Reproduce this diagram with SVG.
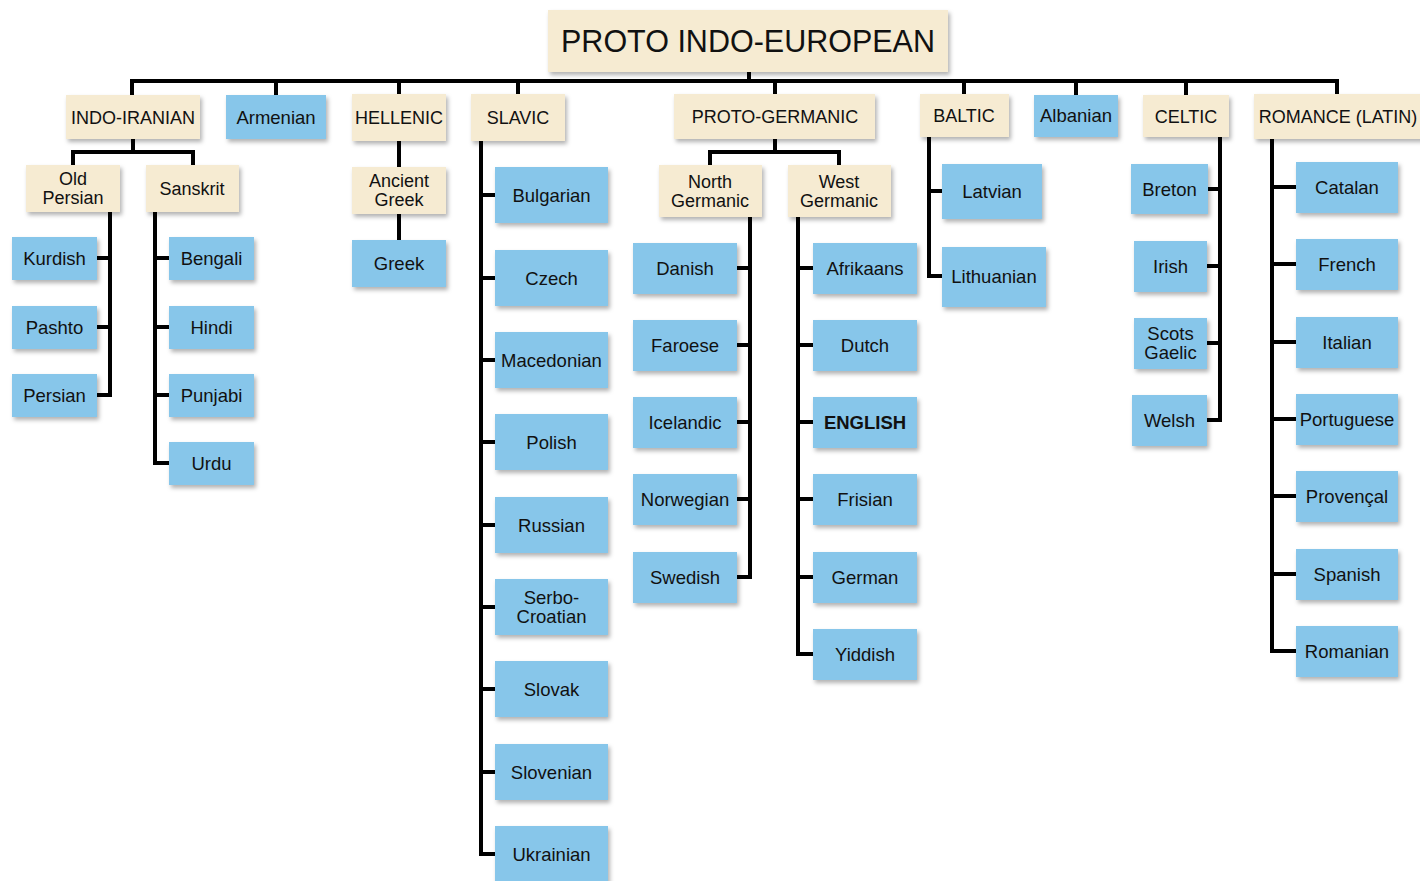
<svg xmlns="http://www.w3.org/2000/svg" width="1420" height="881" viewBox="0 0 1420 881">
<defs>
<filter id="sh" x="-20%" y="-20%" width="150%" height="160%">
<feDropShadow dx="2" dy="3" stdDeviation="2" flood-color="#000" flood-opacity="0.3"/>
</filter>
<style>
.c{fill:#f6ebd2;filter:url(#sh)}
.b{fill:#87c6ea;filter:url(#sh)}
text{font-family:"Liberation Sans",Arial,sans-serif;fill:#111;text-anchor:middle}
.t1{font-size:18px}
.t2{font-size:18.5px}
.t0{font-size:30.5px}
.bold{font-weight:bold}
.ln{fill:none;stroke:#000;stroke-width:4;stroke-linejoin:miter;stroke-linecap:butt}
</style>
</defs>
<rect width="1420" height="881" fill="#fff"/>

<g id="connectors" class="ln">
<path d="M749 72 V81"/>
<path d="M132 95 V81 H1337 V94"/>
<path d="M276 81 V95 M399 81 V94 M518 81 V94 M775 81 V94 M964 81 V94 M1076 81 V95 M1186 81 V95"/>
<path d="M133 139 V152 M73 165 V152 H193 V165"/>
<path d="M110 212 V395 H97 M97 258 H110 M97 327 H110"/>
<path d="M155 212 V463 H169 M155 258 H169 M155 327 H169 M155 395 H169"/>
<path d="M399 141 V167 M399 214 V240"/>
<path d="M481 141 V854 H495 M481 195 H495 M481 278 H495 M481 360 H495 M481 442 H495 M481 525 H495 M481 607 H495 M481 689 H495 M481 772 H495"/>
<path d="M775 139 V152 M710 165 V152 H839 V165"/>
<path d="M750 217 V577 H737 M737 268 H750 M737 345 H750 M737 422 H750 M737 499 H750"/>
<path d="M798 217 V654 H813 M798 268 H813 M798 345 H813 M798 422 H813 M798 499 H813 M798 577 H813"/>
<path d="M929 137 V276 H942 M929 191 H942"/>
<path d="M1220 137 V420 H1207 M1207 189 H1220 M1207 266 H1220 M1207 343 H1220"/>
<path d="M1272 139 V651 H1296 M1272 187 H1296 M1272 264 H1296 M1272 342 H1296 M1272 419 H1296 M1272 496 H1296 M1272 574 H1296"/>
</g>

<g id="pie"><rect class="c" x="548" y="10" width="400" height="62"/><text class="t0" x="748" y="52">PROTO INDO-EUROPEAN</text></g>

<g id="indo-iranian"><rect class="c" x="66" y="95" width="134" height="44"/><text class="t1" x="133" y="123.5">INDO-IRANIAN</text></g>
<g id="armenian"><rect class="b" x="226" y="95" width="100" height="44"/><text class="t2" x="276" y="123.5">Armenian</text></g>
<g id="hellenic"><rect class="c" x="352" y="94" width="94" height="47"/><text class="t1" x="399" y="124">HELLENIC</text></g>
<g id="slavic"><rect class="c" x="471" y="94" width="94" height="47"/><text class="t1" x="518" y="124">SLAVIC</text></g>
<g id="proto-germanic"><rect class="c" x="674" y="94" width="201" height="45"/><text class="t1" x="775" y="123">PROTO-GERMANIC</text></g>
<g id="baltic"><rect class="c" x="920" y="94" width="89" height="43"/><text class="t1" x="964" y="122">BALTIC</text></g>
<g id="albanian"><rect class="b" x="1034" y="95" width="84" height="42"/><text class="t2" x="1076" y="122">Albanian</text></g>
<g id="celtic"><rect class="c" x="1143" y="95" width="86" height="42"/><text class="t1" x="1186" y="122.5">CELTIC</text></g>
<g id="romance"><rect class="c" x="1254" y="94" width="170" height="45"/><text class="t1" x="1338" y="122.5">ROMANCE (LATIN)</text></g>

<g id="old-persian"><rect class="c" x="26" y="165" width="94" height="47"/><text class="t1" x="73" y="185">Old</text><text class="t1" x="73" y="204">Persian</text></g>
<g id="sanskrit"><rect class="c" x="146" y="165" width="93" height="47"/><text class="t1" x="192" y="195">Sanskrit</text></g>
<g id="ancient-greek"><rect class="c" x="352" y="167" width="94" height="47"/><text class="t1" x="399" y="187">Ancient</text><text class="t1" x="399" y="206">Greek</text></g>
<g id="greek"><rect class="b" x="352" y="240" width="94" height="47"/><text class="t2" x="399" y="270">Greek</text></g>
<g id="north-germanic"><rect class="c" x="659" y="165" width="103" height="52"/><text class="t1" x="710" y="188">North</text><text class="t1" x="710" y="207">Germanic</text></g>
<g id="west-germanic"><rect class="c" x="788" y="165" width="103" height="52"/><text class="t1" x="839" y="188">West</text><text class="t1" x="839" y="207">Germanic</text></g>

<g id="kurdish"><rect class="b" x="12" y="237" width="85" height="43"/><text class="t2" x="54.5" y="265">Kurdish</text></g>
<g id="pashto"><rect class="b" x="12" y="306" width="85" height="43"/><text class="t2" x="54.5" y="334">Pashto</text></g>
<g id="persian"><rect class="b" x="12" y="374" width="85" height="43"/><text class="t2" x="54.5" y="402">Persian</text></g>

<g id="bengali"><rect class="b" x="169" y="237" width="85" height="43"/><text class="t2" x="211.5" y="265">Bengali</text></g>
<g id="hindi"><rect class="b" x="169" y="306" width="85" height="43"/><text class="t2" x="211.5" y="334">Hindi</text></g>
<g id="punjabi"><rect class="b" x="169" y="374" width="85" height="43"/><text class="t2" x="211.5" y="402">Punjabi</text></g>
<g id="urdu"><rect class="b" x="169" y="442" width="85" height="43"/><text class="t2" x="211.5" y="470">Urdu</text></g>

<g id="bulgarian"><rect class="b" x="495" y="167" width="113" height="56"/><text class="t2" x="551.5" y="201.5">Bulgarian</text></g>
<g id="czech"><rect class="b" x="495" y="250" width="113" height="56"/><text class="t2" x="551.5" y="284.5">Czech</text></g>
<g id="macedonian"><rect class="b" x="495" y="332" width="113" height="56"/><text class="t2" x="551.5" y="366.5">Macedonian</text></g>
<g id="polish"><rect class="b" x="495" y="414" width="113" height="56"/><text class="t2" x="551.5" y="448.5">Polish</text></g>
<g id="russian"><rect class="b" x="495" y="497" width="113" height="56"/><text class="t2" x="551.5" y="531.5">Russian</text></g>
<g id="serbo-croatian"><rect class="b" x="495" y="579" width="113" height="56"/><text class="t2" x="551.5" y="604">Serbo-</text><text class="t2" x="551.5" y="623">Croatian</text></g>
<g id="slovak"><rect class="b" x="495" y="661" width="113" height="56"/><text class="t2" x="551.5" y="695.5">Slovak</text></g>
<g id="slovenian"><rect class="b" x="495" y="744" width="113" height="56"/><text class="t2" x="551.5" y="778.5">Slovenian</text></g>
<g id="ukrainian"><rect class="b" x="495" y="826" width="113" height="60"/><text class="t2" x="551.5" y="860.5">Ukrainian</text></g>

<g id="danish"><rect class="b" x="633" y="243" width="104" height="51"/><text class="t2" x="685" y="274.5">Danish</text></g>
<g id="faroese"><rect class="b" x="633" y="320" width="104" height="51"/><text class="t2" x="685" y="351.5">Faroese</text></g>
<g id="icelandic"><rect class="b" x="633" y="397" width="104" height="51"/><text class="t2" x="685" y="428.5">Icelandic</text></g>
<g id="norwegian"><rect class="b" x="633" y="474" width="104" height="51"/><text class="t2" x="685" y="505.5">Norwegian</text></g>
<g id="swedish"><rect class="b" x="633" y="552" width="104" height="51"/><text class="t2" x="685" y="583.5">Swedish</text></g>

<g id="afrikaans"><rect class="b" x="813" y="243" width="104" height="51"/><text class="t2" x="865" y="274.5">Afrikaans</text></g>
<g id="dutch"><rect class="b" x="813" y="320" width="104" height="51"/><text class="t2" x="865" y="351.5">Dutch</text></g>
<g id="english"><rect class="b" x="813" y="397" width="104" height="51"/><text class="t2 bold" x="865" y="428.5">ENGLISH</text></g>
<g id="frisian"><rect class="b" x="813" y="474" width="104" height="51"/><text class="t2" x="865" y="505.5">Frisian</text></g>
<g id="german"><rect class="b" x="813" y="552" width="104" height="51"/><text class="t2" x="865" y="583.5">German</text></g>
<g id="yiddish"><rect class="b" x="813" y="629" width="104" height="51"/><text class="t2" x="865" y="660.5">Yiddish</text></g>

<g id="latvian"><rect class="b" x="942" y="164" width="100" height="55"/><text class="t2" x="992" y="197.5">Latvian</text></g>
<g id="lithuanian"><rect class="b" x="942" y="247" width="104" height="60"/><text class="t2" x="994" y="283">Lithuanian</text></g>

<g id="breton"><rect class="b" x="1131" y="164" width="77" height="50"/><text class="t2" x="1169.5" y="195.5">Breton</text></g>
<g id="irish"><rect class="b" x="1134" y="241" width="73" height="51"/><text class="t2" x="1170.5" y="272.5">Irish</text></g>
<g id="scots-gaelic"><rect class="b" x="1134" y="318" width="73" height="51"/><text class="t2" x="1170.5" y="340">Scots</text><text class="t2" x="1170.5" y="359">Gaelic</text></g>
<g id="welsh"><rect class="b" x="1132" y="395" width="75" height="51"/><text class="t2" x="1169.5" y="426.5">Welsh</text></g>

<g id="catalan"><rect class="b" x="1296" y="162" width="102" height="51"/><text class="t2" x="1347" y="193.5">Catalan</text></g>
<g id="french"><rect class="b" x="1296" y="239" width="102" height="51"/><text class="t2" x="1347" y="270.5">French</text></g>
<g id="italian"><rect class="b" x="1296" y="317" width="102" height="51"/><text class="t2" x="1347" y="348.5">Italian</text></g>
<g id="portuguese"><rect class="b" x="1296" y="394" width="102" height="51"/><text class="t2" x="1347" y="425.5">Portuguese</text></g>
<g id="provencal"><rect class="b" x="1296" y="471" width="102" height="51"/><text class="t2" x="1347" y="502.5">Provençal</text></g>
<g id="spanish"><rect class="b" x="1296" y="549" width="102" height="51"/><text class="t2" x="1347" y="580.5">Spanish</text></g>
<g id="romanian"><rect class="b" x="1296" y="626" width="102" height="51"/><text class="t2" x="1347" y="657.5">Romanian</text></g>
</svg>
